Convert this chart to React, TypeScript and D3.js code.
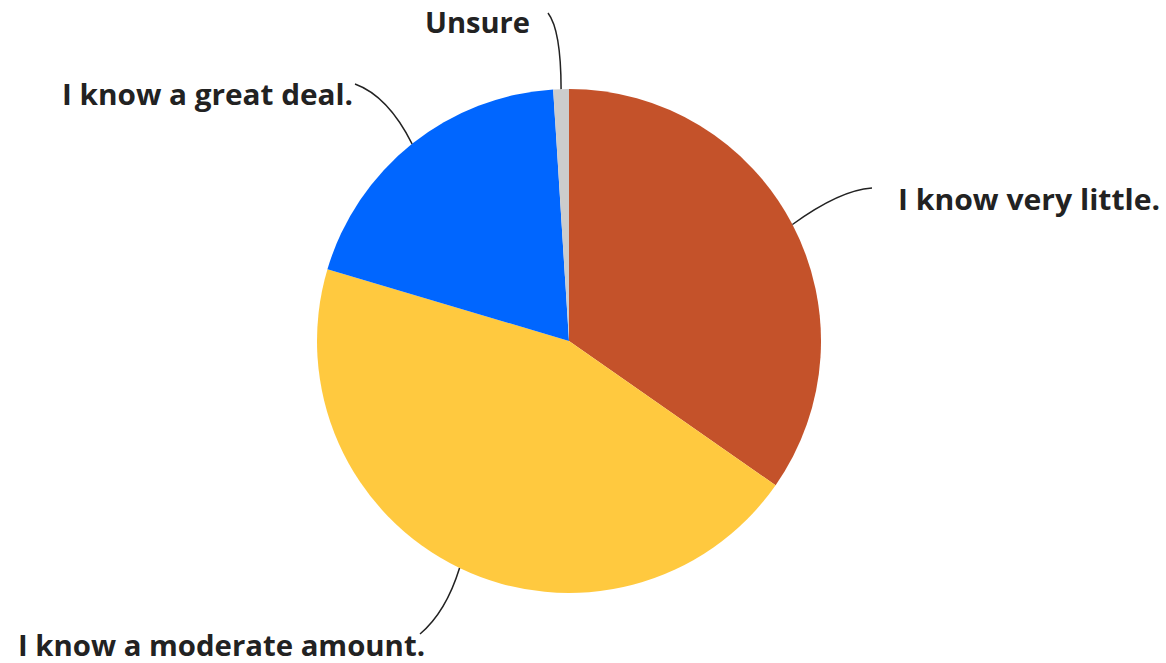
import React from "react";
import * as d3 from "d3";

const categories = ["I know very little.", "I know a moderate amount.", "I know a great deal.", "Unsure"];
const values = [34.7, 44.9, 19.4, 1.0];
const colors = ["#C4522A", "#FFC93F", "#0066FF", "#CCCCCC"];

// label layout: end of leader line, control point, text anchor position, rendered text width
const labelLayout = [
  { end: [872, 188], ctrl: [840, 190], text: [898, 210], anchor: "start", width: 262 },
  { end: [420, 634], ctrl: [446, 612], text: [18, 656], anchor: "start", width: 407 },
  { end: [355, 84], ctrl: [388, 96], text: [62, 105], anchor: "start", width: 291 },
  { end: [548, 13], ctrl: [561, 30], text: [425, 33], anchor: "start", width: 105 },
];

const W = 1166;
const H = 663;
const cx = 569;
const cy = 341;
const R = 252;

export default function App() {
  const pie = d3.pie<number>().sort(null).startAngle(0).endAngle(2 * Math.PI)(values);
  const arc = d3.arc<d3.PieArcDatum<number>>().innerRadius(0).outerRadius(R);
  return (
    <svg width={W} height={H} style={{ position: "absolute", left: 0, top: 0 }}>
      <g transform={`translate(${cx},${cy})`}>
        {pie.map((d, i) => (
          <path key={i} d={arc(d) || ""} fill={colors[i]} />
        ))}
      </g>
      {pie.map((d, i) => {
        const mid = (d.startAngle + d.endAngle) / 2;
        const sx = cx + R * Math.sin(mid);
        const sy = cy - R * Math.cos(mid);
        const L = labelLayout[i];
        const p = d3.path();
        p.moveTo(sx, sy);
        p.quadraticCurveTo(L.ctrl[0], L.ctrl[1], L.end[0], L.end[1]);
        return <path key={"l" + i} d={p.toString()} fill="none" stroke="#222" strokeWidth={1.5} />;
      })}
      {pie.map((d, i) => {
        const L = labelLayout[i];
        return (
          <text
            key={"t" + i}
            x={L.text[0]}
            y={L.text[1]}
            textAnchor={L.anchor}
            textLength={L.width}
            lengthAdjust="spacingAndGlyphs"
            fontFamily="'Open Sans', sans-serif"
            fontWeight={700}
            fontSize={28}
            fill="#222"
          >
            {categories[i]}
          </text>
        );
      })}
    </svg>
  );
}
